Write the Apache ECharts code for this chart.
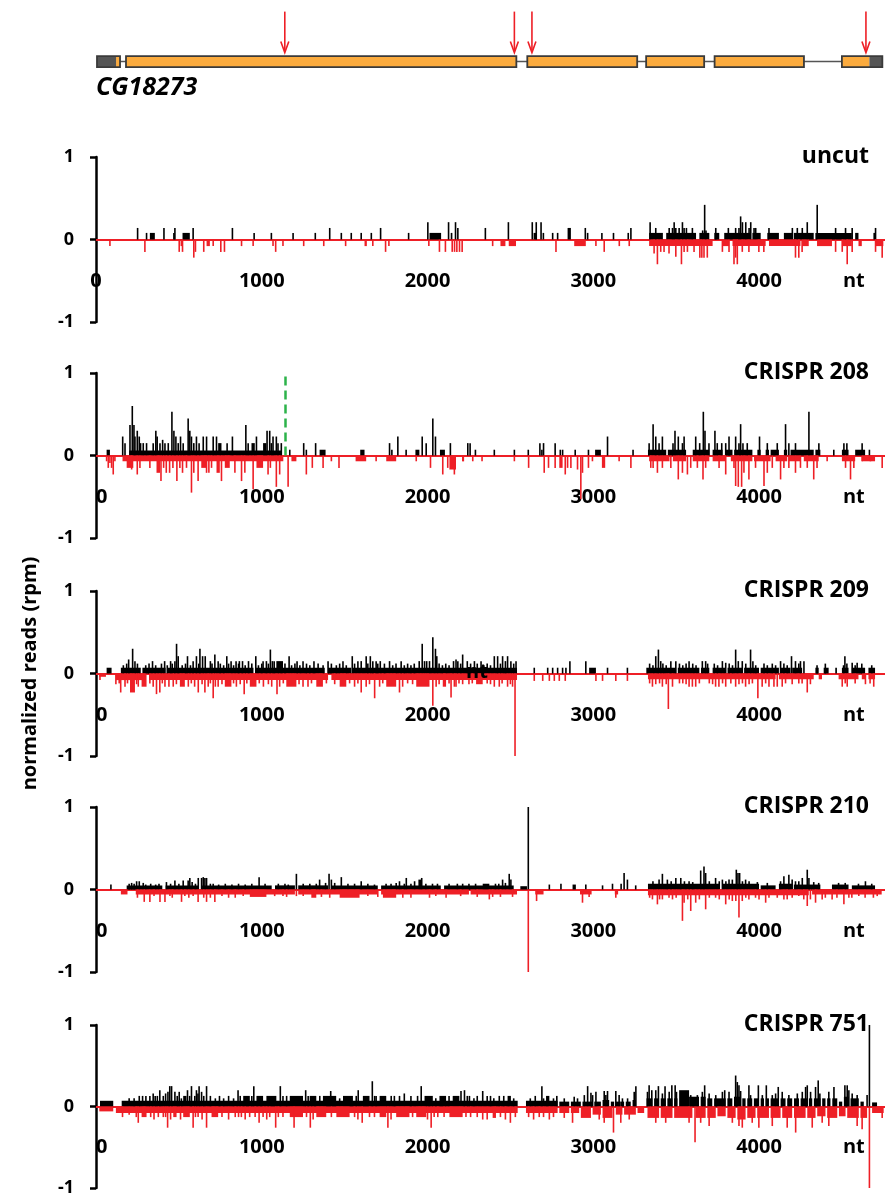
<!DOCTYPE html>
<html><head><meta charset="utf-8">
<script src="https://cdn.jsdelivr.net/npm/echarts@6/dist/echarts.min.js"></script>
<style>html,body{margin:0;padding:0;background:#fff}#c{width:885px;height:1197px}</style>
</head><body><div id="c"></div><script>
// ---------------- DATA ----------------
const xTicks = [0, 1000, 2000, 3000, 4000];
const xUnitLabel = 'nt';
const xUnitPos = 4572;
const xMax = 4760;
const panelTitles = ['uncut', 'CRISPR 208', 'CRISPR 209', 'CRISPR 210', 'CRISPR 751'];
const yAxisTitle = 'normalized reads (rpm)';
const geneName = 'CG18273';

// gene model (nt)
const geneUTR = [[6, 121], [4666, 4744]];
const geneCDS = [[121, 145], [181, 2536], [2602, 3265], [3319, 3669], [3732, 4271], [4500, 4666]];
const geneExons = [[6, 145], [181, 2536], [2602, 3265], [3319, 3669], [3732, 4271], [4500, 4744]];
const geneIntron = [[145, 4500]];
const sgRNAsites = [1139, 2524, 2630, 4645];
// green dashed marker in CRISPR 208 panel [nt, from, to]
const marker208 = [1143, 0, 1];

// reads: [startNt, endNt, value]  (single bars have start == end)
const uncutPos = [[251,251,0.14],[305,305,0.08],[325,355,0.08],[410,410,0.14],[470,470,0.08],[476,476,0.14],[522,566,0.08],[586,586,0.14],[823,823,0.14],[954,954,0.08],[1058,1058,0.08],[1189,1189,0.08],[1323,1323,0.08],[1410,1410,0.14],[1480,1480,0.08],[1540,1540,0.08],[1600,1600,0.08],[1661,1661,0.08],[1717,1717,0.14],[1886,1886,0.08],[2002,2002,0.21],[2012,2082,0.08],[2127,2127,0.21],[2140,2150,0.08],[2169,2169,0.21],[2183,2183,0.14],
[2349,2349,0.14],[2488,2488,0.21],[2632,2632,0.21],[2640,2660,0.08],[2656,2656,0.21],[2685,2685,0.21],[2699,2699,0.08],[2755,2755,0.08],[2785,2785,0.08],[2845,2865,0.14],[2952,2952,0.14],[2966,2966,0.08],[3052,3052,0.08],[3122,3122,0.08],[3211,3211,0.08],[3227,3227,0.14],
[3337,3420,0.08],[3440,3620,0.08],[3640,3700,0.08],[3730,3760,0.08],[3790,3950,0.08],[3960,4010,0.08],[4050,4120,0.08],[4150,4200,0.08],[4210,4330,0.08],[4340,4560,0.08],[4580,4600,0.08],[4690,4700,0.08],
[3343,3343,0.21],[3377,3377,0.14],[3458,3458,0.14],[3478,3478,0.14],[3488,3488,0.21],[3498,3498,0.14],[3518,3518,0.14],[3538,3538,0.21],[3548,3548,0.14],[3562,3562,0.14],[3598,3598,0.14],[3660,3660,0.11],[3672,3672,0.42],[3680,3680,0.11],[3739,3739,0.14],[3815,3815,0.14],[3859,3859,0.14],[3879,3879,0.14],[3889,3889,0.28],[3900,3900,0.21],[3920,3920,0.21],[3940,3940,0.14],[3950,3950,0.21],[3970,3970,0.14],[3980,3980,0.14],[4060,4060,0.14],[4201,4201,0.14],[4231,4231,0.14],[4261,4261,0.14],[4291,4291,0.21],[4351,4351,0.42],[4462,4462,0.14],[4522,4522,0.14],[4562,4562,0.14],[4703,4703,0.14]];
const uncutNeg = [[84,84,-0.08],[295,295,-0.15],[502,502,-0.15],[510,522,-0.08],[522,522,-0.15],[590,590,-0.22],[600,600,-0.15],[650,650,-0.15],[667,687,-0.08],[707,707,-0.08],[753,753,-0.15],[775,775,-0.15],[878,878,-0.08],[948,948,-0.08],[1068,1068,-0.08],[1084,1084,-0.15],[1128,1128,-0.08],[1253,1253,-0.08],[1374,1374,-0.08],[1506,1506,-0.08],[1620,1634,-0.08],[1670,1670,-0.08],[1747,1747,-0.15],[1767,1767,-0.08],[2008,2008,-0.08],[2072,2072,-0.15],[2108,2108,-0.15],[2149,2149,-0.15],[2163,2163,-0.15],[2177,2177,-0.15],[2193,2193,-0.15],[2209,2209,-0.15],
[2393,2393,-0.08],[2440,2470,-0.08],[2490,2534,-0.08],[2775,2775,-0.15],[2885,2955,-0.08],[3016,3016,-0.08],[3066,3066,-0.15],[3157,3157,-0.08],[3217,3217,-0.08],
[3337,3720,-0.08],[3780,3820,-0.08],[3840,4040,-0.08],[4060,4250,-0.08],[4260,4300,-0.08],[4350,4440,-0.08],[4500,4560,-0.08],[4600,4620,-0.08],[4700,4750,-0.08],
[3367,3367,-0.17],[3387,3387,-0.3],[3407,3407,-0.15],[3427,3427,-0.15],[3457,3457,-0.17],[3498,3498,-0.21],[3532,3532,-0.3],[3548,3548,-0.15],[3568,3568,-0.15],[3608,3608,-0.15],[3643,3643,-0.22],[3655,3655,-0.22],[3668,3668,-0.22],[3688,3688,-0.22],[3779,3779,-0.15],[3819,3819,-0.15],[3849,3849,-0.3],[3859,3859,-0.22],[3869,3869,-0.3],[3899,3899,-0.15],[3939,3939,-0.15],[3999,3999,-0.15],[4029,4029,-0.15],[4220,4220,-0.22],[4240,4240,-0.22],[4260,4260,-0.15],[4462,4462,-0.15],[4502,4502,-0.15],[4532,4532,-0.3],[4562,4562,-0.15],[4703,4703,-0.15],[4743,4743,-0.22]];

const c208Pos = [[64,84,0.07],[200,1120,0.06],[161,161,0.23],[175,175,0.15],[205,205,0.37],[219,219,0.6],[229,229,0.37],[235,235,0.23],[249,249,0.3],[261,261,0.23],[269,269,0.15],[285,285,0.15],[305,305,0.15],[345,345,0.15],[361,361,0.3],[369,369,0.23],[386,386,0.15],[402,402,0.19],[416,416,0.15],[436,436,0.15],[458,458,0.53],[470,470,0.3],[482,482,0.23],[496,496,0.15],[510,510,0.23],[526,526,0.15],[556,556,0.45],[566,566,0.3],[576,576,0.23],[590,590,0.15],[606,606,0.23],[622,622,0.15],[647,647,0.23],[667,667,0.23],[707,707,0.23],[727,727,0.23],[737,757,0.15],[791,791,0.15],[823,823,0.23],[904,904,0.37],[918,918,0.15],[938,958,0.15],[968,968,0.23],[1008,1028,0.15],[1032,1032,0.3],[1048,1048,0.3],[1058,1058,0.15],[1068,1068,0.23],[1088,1088,0.23],[1098,1098,0.15],[1118,1118,0.15],
[1169,1169,0.07],[1253,1253,0.15],[1269,1269,0.07],[1325,1325,0.15],[1349,1385,0.07],[1594,1620,0.07],[1771,1771,0.15],[1785,1785,0.07],[1821,1821,0.23],[1871,1871,0.07],[1927,1951,0.07],[1968,1968,0.23],[1992,1992,0.15],[2032,2032,0.45],[2048,2048,0.23],[2075,2105,0.07],[2138,2138,0.15],[2243,2243,0.15],
[2257,2257,0.15],[2289,2289,0.07],[2403,2403,0.07],[2524,2524,0.07],[2608,2608,0.07],[2678,2678,0.15],[2690,2690,0.07],[2700,2700,0.15],[2770,2770,0.15],[2801,2801,0.07],[2815,2815,0.07],[2891,2891,0.07],[2971,2971,0.07],[3011,3046,0.07],[3086,3086,0.23],[3240,3240,0.07],
[3330,3440,0.07],[3450,3560,0.07],[3600,3700,0.07],[3720,3780,0.07],[3800,3840,0.07],[3850,3960,0.07],[3990,4010,0.07],[4040,4060,0.07],[4070,4120,0.07],[4150,4170,0.07],[4190,4330,0.07],[4340,4370,0.07],[4500,4540,0.07],[4580,4640,0.07],
[3337,3337,0.15],[3361,3361,0.38],[3377,3377,0.23],[3397,3397,0.15],[3417,3417,0.23],[3481,3481,0.15],[3493,3493,0.3],[3513,3513,0.23],[3538,3538,0.15],[3548,3548,0.23],[3618,3618,0.23],[3642,3642,0.15],[3664,3664,0.53],[3674,3674,0.3],[3698,3698,0.15],[3734,3734,0.3],[3748,3748,0.15],[3775,3775,0.15],[3799,3799,0.15],[3819,3819,0.23],[3859,3859,0.23],[3879,3879,0.15],[3889,3889,0.38],[3903,3903,0.15],[3929,3929,0.15],[4003,4003,0.23],[4050,4050,0.15],[4110,4110,0.15],[4160,4160,0.38],[4180,4180,0.15],[4220,4220,0.15],[4301,4301,0.53],[4361,4361,0.15],[4451,4451,0.07],[4512,4512,0.15],[4530,4530,0.15],[4622,4622,0.15],[4666,4666,0.07]];
const c208Neg = [[64,64,-0.07],[74,74,-0.15],[84,84,-0.09],[94,94,-0.15],[104,104,-0.23],[114,114,-0.07],[160,1130,-0.07],[185,225,-0.15],[215,215,-0.17],[249,249,-0.23],[265,265,-0.15],[325,325,-0.15],[365,386,-0.21],[392,392,-0.31],[408,408,-0.15],[424,424,-0.21],[444,444,-0.21],[464,464,-0.15],[488,488,-0.31],[506,506,-0.15],[522,522,-0.21],[546,546,-0.15],[576,576,-0.45],[590,590,-0.21],[616,616,-0.31],[635,667,-0.15],[667,667,-0.21],[681,681,-0.21],[697,697,-0.15],[727,747,-0.21],[757,757,-0.31],[777,807,-0.15],[838,838,-0.21],[878,878,-0.31],[898,898,-0.21],[948,948,-0.41],[968,1008,-0.15],[1038,1038,-0.23],[1052,1052,-0.15],[1088,1088,-0.38],[1108,1108,-0.23],[1159,1159,-0.38],[1179,1209,-0.07],[1269,1269,-0.23],[1305,1305,-0.15],[1370,1370,-0.15],[1420,1420,-0.07],[1466,1466,-0.15],[1566,1630,-0.07],[1690,1690,-0.07],[1751,1811,-0.07],[1932,1932,-0.07],[2018,2018,-0.15],[2092,2092,-0.23],[2122,2122,-0.15],[2162,2162,-0.23],[2213,2213,-0.07],
[2132,2172,-0.17],[2216,2216,-0.07],[2273,2273,-0.07],[2329,2329,-0.07],[2524,2524,-0.07],[2610,2610,-0.15],[2704,2704,-0.21],[2730,2730,-0.15],[2770,2770,-0.15],[2795,2815,-0.15],[2831,2831,-0.23],[2845,2845,-0.15],[2865,2865,-0.15],[2905,2905,-0.17],[2925,2925,-0.53],[2935,2935,-0.21],[2971,2971,-0.15],[2995,2995,-0.07],[3052,3072,-0.15],[3156,3156,-0.07],[3227,3227,-0.15],
[3337,3460,-0.07],[3480,3560,-0.07],[3600,3700,-0.07],[3720,3800,-0.07],[3830,3960,-0.07],[3970,4070,-0.07],[4100,4170,-0.07],[4180,4250,-0.07],[4270,4360,-0.07],[4500,4580,-0.07],[4620,4700,-0.07],
[3347,3347,-0.15],[3361,3361,-0.15],[3387,3387,-0.21],[3417,3417,-0.15],[3468,3468,-0.15],[3513,3513,-0.29],[3538,3538,-0.21],[3568,3568,-0.23],[3588,3588,-0.15],[3628,3628,-0.15],[3662,3662,-0.29],[3678,3678,-0.15],[3759,3759,-0.15],[3799,3799,-0.23],[3849,3849,-0.15],[3859,3859,-0.37],[3875,3875,-0.38],[3895,3895,-0.38],[3909,3909,-0.21],[3939,3939,-0.29],[3979,3979,-0.15],[4030,4030,-0.37],[4050,4050,-0.21],[4080,4080,-0.15],[4130,4130,-0.29],[4150,4150,-0.15],[4180,4180,-0.15],[4220,4220,-0.21],[4250,4250,-0.15],[4291,4291,-0.15],[4330,4330,-0.29],[4350,4350,-0.15],[4411,4411,-0.07],[4522,4522,-0.15],[4552,4552,-0.29],[4572,4572,-0.15],[4622,4622,-0.07],[4672,4672,-0.07],[4743,4743,-0.15]];

const c209Pos = [[64,94,0.07],[150,270,0.07],[280,420,0.07],[430,950,0.07],[960,1380,0.07],[1400,1540,0.07],[1550,2540,0.07],
[197,197,0.17],[221,221,0.3],[235,235,0.15],[341,341,0.15],[414,414,0.15],[450,450,0.15],[476,476,0.15],[486,486,0.36],[496,496,0.21],[552,552,0.21],[586,586,0.15],[606,606,0.21],[627,627,0.3],[643,643,0.21],[659,659,0.21],[717,717,0.23],[737,737,0.15],[789,789,0.21],[815,815,0.15],[845,845,0.15],[865,865,0.15],[884,884,0.15],[920,920,0.15],[964,964,0.21],[1008,1008,0.15],[1028,1028,0.15],[1052,1052,0.29],[1064,1064,0.15],[1088,1128,0.15],[1165,1165,0.21],[1213,1213,0.15],[1249,1249,0.15],[1315,1315,0.15],[1400,1400,0.15],[1490,1490,0.15],[1546,1546,0.21],[1580,1580,0.15],[1630,1630,0.21],[1655,1655,0.21],[1670,1670,0.15],[1715,1715,0.15],[1771,1771,0.15],[1841,1841,0.15],[1968,1968,0.36],[1982,1982,0.15],[2012,2012,0.15],[2032,2032,0.44],[2048,2048,0.3],[2056,2056,0.21],[2157,2157,0.15],[2183,2183,0.15],
[165,165,0.1],[185,185,0.12],[250,250,0.12],[300,300,0.1],[320,320,0.12],[360,360,0.1],[395,395,0.12],[430,430,0.1],[460,460,0.12],[520,520,0.1],[540,540,0.12],[570,570,0.1],[620,620,0.12],[690,690,0.15],[700,700,0.12],[750,750,0.12],[770,770,0.1],[800,800,0.12],[830,830,0.1],[860,860,0.12],[900,900,0.1],[940,940,0.12],[980,980,0.1],[1000,1000,0.12],[1040,1040,0.12],[1075,1075,0.15],[1140,1140,0.12],[1180,1180,0.1],[1200,1200,0.12],[1230,1230,0.1],[1270,1270,0.12],[1290,1290,0.1],[1340,1340,0.12],[1370,1370,0.1],[1420,1420,0.12],[1450,1450,0.1],[1470,1470,0.12],[1510,1510,0.1],[1560,1560,0.12],[1600,1600,0.15],[1640,1640,0.12],[1690,1690,0.15],[1700,1700,0.12],[1740,1740,0.12],[1790,1790,0.1],[1810,1810,0.12],[1860,1860,0.1],[1880,1880,0.12],[1900,1900,0.1],[1920,1920,0.12],[1950,1950,0.15],[1995,1995,0.15],[2070,2070,0.12],[2090,2090,0.1],[2110,2110,0.12],[2130,2130,0.1],[2200,2200,0.12],[2240,2240,0.15],[2260,2260,0.12],[2300,2300,0.12],[2340,2340,0.1],[2360,2360,0.12],[2380,2380,0.1],[2440,2440,0.12],[2470,2470,0.15],[2520,2520,0.12],
[2172,2172,0.17],[2212,2212,0.23],[2283,2283,0.15],[2323,2323,0.15],[2403,2403,0.21],[2423,2423,0.21],[2453,2453,0.21],[2483,2483,0.21],[2503,2503,0.15],[2534,2534,0.15],[2644,2644,0.07],[2725,2725,0.07],[2755,2755,0.07],[2785,2785,0.07],[2815,2815,0.07],[2835,2835,0.07],[2859,2859,0.15],[2955,2955,0.15],[2975,3016,0.07],[3086,3086,0.07],[3206,3206,0.07],
[3320,3500,0.07],[3510,3640,0.07],[3650,3700,0.07],[3720,3800,0.07],[3810,3900,0.07],[3910,4000,0.07],[4010,4120,0.07],[4130,4190,0.07],[4200,4260,0.07],[4340,4360,0.07],[4390,4420,0.07],[4460,4470,0.07],[4500,4540,0.07],[4560,4640,0.07],[4660,4700,0.07],
[3377,3377,0.21],[3393,3393,0.29],[3407,3407,0.15],[3468,3468,0.15],[3498,3498,0.15],[3578,3578,0.15],[3658,3658,0.15],[3678,3678,0.15],[3779,3779,0.15],[3799,3799,0.13],[3859,3859,0.29],[3875,3875,0.15],[3899,3899,0.15],[3949,3949,0.29],[3963,3963,0.15],[4130,4130,0.15],[4196,4196,0.21],[4220,4220,0.15],[4250,4250,0.15],[4271,4271,0.15],[4518,4518,0.21],[4562,4562,0.13],[4592,4592,0.13],
[3340,3340,0.12],[3360,3360,0.1],[3420,3420,0.12],[3440,3440,0.1],[3520,3520,0.12],[3540,3540,0.1],[3560,3560,0.12],[3600,3600,0.12],[3620,3620,0.1],[3690,3690,0.12],[3730,3730,0.12],[3750,3750,0.1],[3820,3820,0.12],[3840,3840,0.1],[3920,3920,0.12],[3980,3980,0.1],[4030,4030,0.12],[4050,4050,0.1],[4080,4080,0.12],[4100,4100,0.1],[4150,4150,0.12],[4170,4170,0.1],[4240,4240,0.12],[4350,4350,0.1],[4400,4400,0.12],[4510,4510,0.1],[4530,4530,0.12],[4580,4580,0.1],[4620,4620,0.12],[4680,4680,0.1]];
const c209Neg = [[20,60,-0.04],[120,300,-0.08],[320,1400,-0.08],[1420,2540,-0.08],
[24,24,-0.08],[120,120,-0.13],[149,149,-0.23],[205,235,-0.23],[255,255,-0.16],[275,305,-0.16],[365,365,-0.25],[385,385,-0.23],[416,416,-0.16],[466,466,-0.16],[506,536,-0.16],[557,557,-0.16],[617,617,-0.23],[657,657,-0.23],[677,677,-0.16],[707,707,-0.3],[737,737,-0.16],[777,817,-0.16],[847,847,-0.16],[894,894,-0.25],[928,968,-0.16],[1092,1092,-0.25],[1108,1108,-0.16],[1148,1209,-0.16],[1249,1249,-0.16],[1279,1279,-0.16],[1329,1369,-0.16],[1470,1510,-0.16],[1600,1600,-0.23],[1630,1630,-0.16],[1681,1681,-0.3],[1711,1711,-0.16],[1751,1811,-0.16],[1831,1831,-0.23],[1932,2012,-0.16],[2032,2032,-0.39],[2052,2052,-0.16],[2092,2112,-0.16],[2142,2142,-0.29],[2162,2162,-0.16],
[140,140,-0.12],[175,175,-0.16],[190,190,-0.12],[245,245,-0.13],[325,325,-0.12],[345,345,-0.16],[400,400,-0.12],[440,440,-0.16],[485,485,-0.13],[575,575,-0.12],[595,595,-0.16],[640,640,-0.13],[690,690,-0.12],[720,720,-0.16],[760,760,-0.13],[830,830,-0.12],[870,870,-0.13],[910,910,-0.12],[985,985,-0.12],[1010,1010,-0.16],[1040,1040,-0.13],[1060,1060,-0.16],[1130,1130,-0.12],[1225,1225,-0.13],[1300,1300,-0.12],[1390,1390,-0.12],[1440,1440,-0.13],[1530,1530,-0.12],[1560,1560,-0.16],[1580,1580,-0.12],[1650,1650,-0.13],[1730,1730,-0.12],[1850,1850,-0.16],[1880,1880,-0.12],[1910,1910,-0.13],[2070,2070,-0.13],[2130,2130,-0.12],[2190,2190,-0.12],[2250,2250,-0.13],[2270,2270,-0.12],[2360,2360,-0.12],[2380,2380,-0.13],[2450,2450,-0.12],[2500,2500,-0.13],
[2172,2172,-0.16],[2212,2212,-0.13],[2293,2333,-0.13],[2403,2403,-0.16],[2433,2433,-0.16],[2483,2483,-0.16],[2513,2513,-0.16],[2528,2528,-1.0],[2644,2644,-0.09],[2695,2695,-0.09],[2735,2735,-0.09],[2765,2765,-0.09],[2795,2795,-0.09],[2831,2831,-0.09],[3016,3016,-0.09],[3056,3056,-0.09],[3136,3136,-0.09],[3206,3206,-0.09],
[3330,4100,-0.07],[4120,4330,-0.07],[4360,4380,-0.07],[4480,4600,-0.07],[4620,4640,-0.07],[4660,4700,-0.07],
[3357,3357,-0.16],[3377,3377,-0.13],[3417,3417,-0.16],[3453,3453,-0.43],[3478,3478,-0.16],[3578,3578,-0.16],[3598,3598,-0.16],[3618,3618,-0.16],[3738,3738,-0.16],[3758,3758,-0.16],[3799,3799,-0.16],[3859,3859,-0.16],[3879,3879,-0.13],[3919,3919,-0.16],[3993,3993,-0.3],[4019,4019,-0.16],[4060,4060,-0.16],[4090,4090,-0.16],[4110,4110,-0.16],[4140,4140,-0.16],[4291,4291,-0.23],[4502,4502,-0.16],[4532,4532,-0.16],[4642,4642,-0.13],[4692,4692,-0.16],
[3340,3340,-0.12],[3400,3400,-0.12],[3440,3440,-0.13],[3520,3520,-0.12],[3540,3540,-0.12],[3560,3560,-0.13],[3640,3640,-0.12],[3700,3700,-0.12],[3720,3720,-0.13],[3780,3780,-0.12],[3830,3830,-0.12],[3900,3900,-0.12],[3940,3940,-0.13],[3960,3960,-0.12],[4040,4040,-0.12],[4160,4160,-0.12],[4200,4200,-0.13],[4240,4240,-0.12],[4260,4260,-0.12],[4310,4310,-0.13],[4520,4520,-0.12],[4580,4580,-0.12],[4670,4670,-0.12]];

const c210Pos = [[90,90,0.06],[185,400,0.05],[420,620,0.05],[640,1060,0.05],[1080,1200,0.05],[1220,1400,0.05],[1420,1700,0.05],[1720,2080,0.05],[2100,2520,0.05],[2560,2600,0.04],
[215,215,0.08],[245,245,0.1],[261,261,0.1],[285,285,0.08],[425,425,0.09],[476,476,0.11],[526,526,0.11],[556,556,0.11],[566,566,0.14],[580,580,0.09],[617,617,0.14],[637,637,0.14],[647,647,0.15],[657,657,0.14],[667,667,0.14],[707,707,0.07],[984,984,0.15],[1140,1140,0.07],[1209,1209,0.19],[1329,1329,0.07],[1349,1349,0.12],[1385,1385,0.08],[1406,1406,0.19],[1420,1420,0.12],[1480,1480,0.15],[1600,1600,0.1],[1811,1811,0.08],[1831,1831,0.1],[1872,1872,0.14],[1922,1922,0.1],[1945,1965,0.12],[1965,1965,0.14],
[200,200,0.07],[230,230,0.07],[300,300,0.06],[330,330,0.07],[360,360,0.06],[380,380,0.07],[450,450,0.07],[500,500,0.07],[600,600,0.07],[690,690,0.07],[740,740,0.06],[780,780,0.07],[820,820,0.06],[860,860,0.07],[900,900,0.06],[940,940,0.07],[1020,1020,0.07],[1100,1100,0.07],[1160,1160,0.06],[1250,1250,0.07],[1290,1290,0.07],[1440,1440,0.08],[1520,1520,0.07],[1560,1560,0.07],[1640,1640,0.07],[1680,1680,0.06],[1750,1750,0.07],[1780,1780,0.07],[1860,1860,0.07],[1900,1900,0.07],[1990,1990,0.07],[2030,2030,0.07],[2060,2060,0.07],[2130,2130,0.07],[2180,2180,0.07],[2250,2250,0.07],[2290,2290,0.07],[2410,2410,0.07],[2430,2430,0.07],[2470,2470,0.08],
[2212,2212,0.07],[2333,2373,0.07],[2453,2453,0.12],[2493,2493,0.19],[2503,2503,0.12],[2608,2608,1.0],[2735,2735,0.06],[2805,2805,0.07],[2875,2895,0.06],[2955,2955,0.06],[3056,3056,0.05],[3116,3116,0.07],[3168,3168,0.07],[3186,3186,0.2],[3206,3206,0.12],[3256,3256,0.05],
[3330,3760,0.07],[3780,4000,0.07],[4010,4100,0.05],[4120,4200,0.07],[4210,4370,0.06],[4440,4540,0.06],[4560,4700,0.05],
[3397,3397,0.12],[3417,3417,0.19],[3447,3447,0.12],[3498,3498,0.14],[3528,3528,0.14],[3578,3578,0.1],[3648,3648,0.23],[3668,3668,0.28],[3678,3678,0.2],[3738,3738,0.14],[3779,3779,0.12],[3819,3819,0.12],[3839,3839,0.12],[3863,3863,0.24],[3873,3873,0.2],[3883,3883,0.2],[3919,3919,0.12],[4150,4150,0.16],[4180,4180,0.18],[4220,4220,0.1],[4261,4261,0.14],[4291,4291,0.24],[4301,4301,0.14],[4642,4642,0.1],
[3360,3360,0.1],[3470,3470,0.1],[3550,3550,0.1],[3600,3600,0.09],[3700,3700,0.1],[3760,3760,0.1],[3800,3800,0.1],[3900,3900,0.1],[3940,3940,0.1],[3990,3990,0.09],[4050,4050,0.08],[4130,4130,0.1],[4200,4200,0.12],[4240,4240,0.1],[4330,4330,0.09],[4360,4360,0.08],[4480,4480,0.08],[4520,4520,0.08],[4600,4600,0.07],[4680,4680,0.07]];
const c210Neg = [[150,190,-0.06],[240,1200,-0.06],[1220,1700,-0.06],[1720,2250,-0.06],[2260,2540,-0.06],[2650,2700,-0.06],[2920,2990,-0.06],[3130,3150,-0.06],[3330,4300,-0.07],[4320,4740,-0.06],
[291,291,-0.15],[325,325,-0.15],[386,386,-0.15],[416,416,-0.15],[446,446,-0.08],[516,516,-0.15],[536,536,-0.08],[586,586,-0.08],[616,616,-0.15],[667,667,-0.15],[717,717,-0.15],[888,888,-0.08],[928,1028,-0.09],[1078,1078,-0.08],[1128,1128,-0.08],[1209,1209,-0.08],[1299,1329,-0.1],[1410,1410,-0.1],[1470,1590,-0.1],[1731,1811,-0.1],[1851,1851,-0.1],[2012,2012,-0.1],[2112,2112,-0.1],
[250,250,-0.1],[350,350,-0.08],[460,460,-0.1],[560,560,-0.1],[650,650,-0.1],[690,690,-0.1],[760,760,-0.08],[800,800,-0.1],[840,840,-0.1],[1150,1150,-0.09],[1250,1250,-0.08],[1360,1360,-0.09],[1640,1640,-0.08],[1700,1700,-0.09],[1900,1900,-0.1],[2050,2050,-0.08],[2200,2200,-0.08],[2300,2300,-0.09],[2440,2440,-0.09],
[2373,2373,-0.12],[2393,2393,-0.09],[2513,2513,-0.09],[2608,2608,-1.0],[2658,2658,-0.14],[2935,2935,-0.16],[2975,2975,-0.09],[3136,3136,-0.1],
[3357,3357,-0.12],[3387,3387,-0.18],[3417,3417,-0.12],[3457,3457,-0.1],[3478,3478,-0.12],[3538,3538,-0.38],[3548,3548,-0.16],[3588,3588,-0.26],[3618,3618,-0.16],[3678,3678,-0.24],[3738,3738,-0.1],[3799,3799,-0.18],[3839,3839,-0.14],[3879,3879,-0.34],[3899,3899,-0.14],[3939,3939,-0.12],[3979,3979,-0.1],[4040,4040,-0.16],[4150,4150,-0.12],[4170,4170,-0.12],[4240,4240,-0.08],[4291,4291,-0.2],[4341,4341,-0.16],[4381,4381,-0.12],[4441,4441,-0.12],[4512,4512,-0.18],[4542,4542,-0.1],[4602,4602,-0.08],[4713,4713,-0.08],
[3340,3340,-0.1],[3400,3400,-0.12],[3500,3500,-0.1],[3570,3570,-0.12],[3640,3640,-0.12],[3700,3700,-0.1],[3760,3760,-0.12],[3820,3820,-0.12],[3860,3860,-0.14],[3920,3920,-0.1],[4000,4000,-0.12],[4060,4060,-0.1],[4110,4110,-0.1],[4200,4200,-0.1],[4270,4270,-0.12],[4310,4310,-0.12],[4400,4400,-0.1],[4470,4470,-0.1],[4560,4560,-0.1],[4640,4640,-0.1],[4690,4690,-0.1]];

const c751Pos = [[24,104,0.07],[155,2544,0.07],[2594,2785,0.07],
[261,261,0.13],[281,281,0.13],[301,301,0.13],[325,325,0.13],[357,357,0.13],[385,385,0.2],[406,406,0.13],[434,434,0.18],[456,456,0.25],[476,476,0.18],[502,502,0.18],[526,546,0.13],[552,552,0.2],[576,576,0.25],[596,596,0.13],[606,606,0.2],[622,622,0.25],[637,637,0.18],[667,667,0.25],[857,857,0.2],[888,928,0.13],[952,952,0.25],[968,1008,0.13],[1028,1088,0.13],[1112,1112,0.25],[1128,1128,0.13],[1169,1249,0.13],[1265,1265,0.2],[1289,1329,0.13],[1369,1449,0.13],[1416,1416,0.19],[1490,1550,0.13],[1582,1582,0.2],[1610,1650,0.13],[1667,1667,0.31],[1681,1681,0.13],[1711,1751,0.13],[1781,1781,0.13],[1831,1831,0.13],[1962,1962,0.25],[1982,2032,0.13],[2072,2112,0.13],[2152,2192,0.13],[2223,2223,0.2],
[200,200,0.1],[230,230,0.1],[345,345,0.16],[370,370,0.13],[420,420,0.16],[445,445,0.25],[490,490,0.13],[515,515,0.1],[565,565,0.13],[615,615,0.16],[650,650,0.13],[690,690,0.13],[720,720,0.1],[745,745,0.13],[770,770,0.1],[800,800,0.13],[830,830,0.1],[870,870,0.13],[940,940,0.13],[1150,1150,0.13],[1280,1280,0.13],[1350,1350,0.13],[1470,1470,0.1],[1570,1570,0.13],[1690,1690,0.13],[1800,1800,0.13],[1860,1860,0.16],[1900,1900,0.13],[1940,1940,0.13],[2050,2050,0.1],[2130,2130,0.13],[2240,2240,0.13],[2280,2280,0.1],[2300,2300,0.13],[2360,2360,0.13],[2380,2380,0.13],[2400,2400,0.1],[2460,2460,0.13],[2520,2520,0.1],[2620,2620,0.1],[2650,2650,0.13],[2700,2700,0.1],[2760,2760,0.1],
[2202,2202,0.19],[2253,2253,0.13],[2333,2333,0.19],[2433,2433,0.13],[2483,2503,0.13],[2690,2690,0.25],[2715,2735,0.13],[2775,2785,0.13],
[2795,2855,0.06],[2825,2825,0.1],[2865,2925,0.06],[2885,2885,0.12],[2905,2905,0.1],[2935,2995,0.06],[2946,2946,0.14],[2966,2966,0.25],[2986,2986,0.17],[2996,2996,0.14],[3006,3046,0.06],[3016,3016,0.18],[3056,3096,0.08],[3066,3066,0.19],[3076,3076,0.14],[3086,3086,0.19],[3106,3126,0.06],[3136,3166,0.06],[3136,3136,0.19],[3156,3156,0.14],[3166,3186,0.06],[3176,3176,0.1],[3196,3226,0.06],[3207,3207,0.1],[3237,3257,0.08],[3247,3247,0.18],[3257,3257,0.25],
[3321,3357,0.1],[3327,3327,0.18],[3337,3337,0.26],[3353,3353,0.2],[3367,3397,0.1],[3377,3377,0.2],[3393,3393,0.25],[3407,3437,0.1],[3417,3417,0.16],[3433,3433,0.25],[3447,3478,0.1],[3458,3458,0.18],[3474,3474,0.26],[3488,3508,0.1],[3494,3494,0.26],[3502,3502,0.18],[3518,3578,0.2],[3578,3638,0.12],[3588,3588,0.14],[3628,3628,0.14],[3648,3678,0.12],[3658,3658,0.18],[3672,3672,0.26],[3688,3718,0.1],[3699,3699,0.16],[3729,3799,0.1],[3739,3739,0.14],[3779,3779,0.18],[3793,3793,0.2],[3809,3839,0.1],[3819,3819,0.18],[3849,3889,0.12],[3859,3859,0.38],[3869,3869,0.3],[3879,3879,0.26],[3889,3889,0.19],[3899,3919,0.1],[3929,3959,0.1],[3939,3939,0.26],[3949,3949,0.14],[3969,3999,0.1],[3996,3996,0.26],[4010,4030,0.1],[4020,4020,0.14],[4040,4060,0.1],[4044,4044,0.26],[4070,4120,0.1],[4080,4080,0.14],[4100,4100,0.16],[4116,4116,0.24],[4130,4160,0.1],[4140,4140,0.18],[4170,4200,0.1],[4180,4180,0.14],[4211,4241,0.1],[4231,4231,0.16],[4251,4291,0.1],[4261,4261,0.18],[4281,4281,0.24],[4291,4291,0.26],[4301,4321,0.1],[4311,4311,0.18],[4331,4371,0.1],[4341,4341,0.24],[4357,4357,0.32],[4367,4367,0.16],[4381,4401,0.1],[4411,4431,0.1],[4421,4421,0.18],[4442,4472,0.1],[4452,4452,0.24],[4482,4502,0.06],[4512,4542,0.12],[4518,4518,0.26],[4532,4532,0.26],[4542,4542,0.2],[4552,4602,0.1],[4562,4562,0.16],[4592,4592,0.14],[4612,4632,0.06],[4652,4652,0.14],[4666,4666,1.0],[4682,4712,0.05]];
const c751Neg = [[20,104,-0.06],[120,2544,-0.08],[2594,2785,-0.08],
[243,243,-0.13],[255,255,-0.2],[275,305,-0.13],[376,376,-0.13],[406,406,-0.13],[432,432,-0.26],[466,486,-0.13],[526,566,-0.13],[586,586,-0.26],[616,616,-0.13],[667,667,-0.26],[697,737,-0.13],[877,877,-0.13],[927,927,-0.13],[984,984,-0.2],[1008,1008,-0.13],[1048,1048,-0.13],[1084,1084,-0.26],[1128,1128,-0.13],[1169,1249,-0.13],[1195,1195,-0.26],[1293,1293,-0.26],[1329,1389,-0.13],[1450,1530,-0.13],[1606,1606,-0.2],[1650,1650,-0.13],[1711,1751,-0.13],[1761,1761,-0.26],[1811,1891,-0.13],[1932,1992,-0.13],[2022,2022,-0.26],[2062,2062,-0.13],[2132,2212,-0.13],
[160,160,-0.13],[200,200,-0.1],[330,330,-0.13],[350,350,-0.16],[420,420,-0.13],[450,450,-0.16],[510,510,-0.16],[600,600,-0.13],[640,640,-0.16],[760,760,-0.13],[800,800,-0.16],[840,840,-0.13],[860,860,-0.13],[900,900,-0.16],[960,960,-0.13],[1030,1030,-0.16],[1100,1100,-0.13],[1270,1270,-0.13],[1310,1310,-0.16],[1420,1420,-0.13],[1560,1560,-0.13],[1580,1580,-0.16],[1680,1680,-0.13],[1780,1780,-0.16],[1910,1910,-0.13],[2000,2000,-0.16],[2040,2040,-0.13],[2100,2100,-0.13],[2260,2260,-0.13],[2300,2300,-0.13],[2360,2360,-0.16],[2440,2440,-0.13],[2470,2470,-0.16],[2530,2530,-0.13],[2610,2610,-0.13],[2640,2640,-0.16],[2700,2700,-0.13],[2760,2760,-0.13],
[2232,2232,-0.13],[2333,2333,-0.16],[2393,2413,-0.14],[2500,2500,-0.2],[2674,2674,-0.13],[2735,2735,-0.16],
[2795,2855,-0.08],[2825,2825,-0.14],[2865,2915,-0.08],[2875,2875,-0.2],[2925,2986,-0.14],[2996,3046,-0.1],[3036,3036,-0.16],[3056,3116,-0.14],[3066,3066,-0.2],[3122,3122,-0.32],[3136,3176,-0.1],[3166,3166,-0.2],[3186,3257,-0.1],[3217,3217,-0.16],[3267,3307,-0.08],
[3327,3397,-0.14],[3377,3377,-0.2],[3407,3478,-0.14],[3437,3437,-0.2],[3488,3598,-0.14],[3578,3578,-0.2],[3614,3614,-0.44],[3618,3678,-0.14],[3648,3648,-0.2],[3688,3739,-0.14],[3699,3699,-0.24],[3749,3799,-0.12],[3809,3859,-0.14],[3839,3839,-0.2],[3869,3919,-0.16],[3879,3879,-0.24],[3899,3899,-0.26],[3929,3979,-0.14],[3959,3959,-0.2],[3989,4060,-0.14],[3999,3999,-0.26],[4070,4130,-0.14],[4080,4080,-0.24],[4140,4200,-0.14],[4170,4170,-0.26],[4211,4281,-0.14],[4221,4221,-0.32],[4291,4341,-0.14],[4321,4321,-0.26],[4351,4401,-0.12],[4381,4381,-0.2],[4411,4472,-0.14],[4421,4421,-0.24],[4482,4522,-0.12],[4532,4602,-0.14],[4592,4592,-0.24],[4612,4652,-0.14],[4622,4622,-0.28],[4666,4666,-1.0],[4682,4752,-0.08],[4743,4743,-0.14]];

const panelPos = [uncutPos, c208Pos, c209Pos, c210Pos, c751Pos];
const panelNeg = [uncutNeg, c208Neg, c209Neg, c210Neg, c751Neg];

// ---------------- CHART ----------------
const FONT = '"Open Sans", "Liberation Sans", sans-serif';
const BLACK = '#000000', RED = '#ee1f26', GREEN = '#2cb34a', ORANGE = '#fbab3e', GREY = '#555555', OUTLINE = '#3a3a3a';
const panelTop = [157, 373, 591, 807, 1025];
const panelH = 165;

function barItem(color) {
  return function (params, api) {
    const a = api.coord([api.value(0), 0]);
    const b = api.coord([api.value(1), api.value(2)]);
    let x = a[0], w = b[0] - a[0];
    if (w < 1.6) { x = (a[0] + b[0]) / 2 - 0.8; w = 1.6; }
    return { type: 'rect', shape: { x: x, y: Math.min(a[1], b[1]), width: w, height: Math.abs(b[1] - a[1]) }, style: { fill: color } };
  };
}

const grid = [], xAxis = [], yAxis = [], series = [], title = [];
panelTitles.forEach(function (t, i) {
  grid.push({ left: 96, width: 790, top: panelTop[i], height: panelH });
  xAxis.push({
    type: 'value', gridIndex: i, min: 0, max: xMax,
    axisLine: { show: true, onZero: true, lineStyle: { color: RED, width: 2 } },
    axisTick: { show: false }, splitLine: { show: false },
    axisLabel: {
      customValues: xTicks.concat([xUnitPos]),
      formatter: function (v) { return v === xUnitPos ? xUnitLabel : String(v); },
      margin: -51, fontSize: 20, fontWeight: 'bold', color: '#000', fontFamily: FONT,
      alignMinLabel: i === 0 ? 'center' : 'left'
    }
  });
  const ya = {
    type: 'value', gridIndex: i, min: -1, max: 1, interval: 1,
    axisLine: { show: true, onZero: false, lineStyle: { color: '#000', width: 2.5 } },
    axisTick: { show: true, length: 6, lineStyle: { color: '#000', width: 2.5 } },
    axisLabel: { margin: 22, fontSize: 18, fontWeight: 'bold', color: '#000', fontFamily: FONT },
    splitLine: { show: false }
  };
  if (i === 2) {
    ya.name = yAxisTitle; ya.nameLocation = 'middle'; ya.nameRotate = 90; ya.nameGap = 56;
    ya.nameTextStyle = { fontSize: 20, fontWeight: 'bold', color: '#000', fontFamily: FONT };
  }
  yAxis.push(ya);
  title.push({ text: t, right: 16, top: panelTop[i] - 12, padding: 0,
    textStyle: { fontSize: 23, fontWeight: 'bold', color: '#000', fontFamily: FONT } });
  series.push({ type: 'custom', xAxisIndex: i, yAxisIndex: i, clip: true, silent: true,
    renderItem: barItem(BLACK), encode: { x: [0, 1], y: 2 }, data: panelPos[i] });
  series.push({ type: 'custom', xAxisIndex: i, yAxisIndex: i, clip: true, silent: true,
    renderItem: barItem(RED), encode: { x: [0, 1], y: 2 }, data: panelNeg[i] });
});

// CRISPR 208 target marker
series.push({ type: 'line', xAxisIndex: 1, yAxisIndex: 1, data: [], silent: true,
  markLine: { symbol: 'none', silent: true, label: { show: false },
    lineStyle: { color: GREEN, width: 2.5, type: [9, 5] },
    data: [[{ coord: [marker208[0], marker208[1]] }, { coord: [marker208[0], marker208[2]] }]] } });

// gene model grid
const G = 5;
grid.push({ left: 96, width: 790, top: 10, height: 60 });
xAxis.push({ type: 'value', gridIndex: G, min: 0, max: xMax, show: false });
yAxis.push({ type: 'value', gridIndex: G, min: 0, max: 1, show: false });
const geneY = 0.14;
series.push({ type: 'custom', xAxisIndex: G, yAxisIndex: G, silent: true, data: geneIntron,
  renderItem: function (p, api) {
    const a = api.coord([api.value(0), geneY]), b = api.coord([api.value(1), geneY]);
    return { type: 'line', shape: { x1: a[0], y1: a[1], x2: b[0], y2: b[1] }, style: { stroke: GREY, lineWidth: 1.5 } };
  } });
function geneBox(fill, stroke) {
  return function (p, api) {
    const a = api.coord([api.value(0), geneY]), b = api.coord([api.value(1), geneY]);
    return { type: 'rect', shape: { x: a[0], y: a[1] - 5.5, width: b[0] - a[0], height: 11 },
      style: { fill: fill, stroke: stroke, lineWidth: stroke === 'none' ? 0 : 1.8 } };
  };
}
series.push({ type: 'custom', xAxisIndex: G, yAxisIndex: G, silent: true, data: geneCDS, renderItem: geneBox(ORANGE, 'none') });
series.push({ type: 'custom', xAxisIndex: G, yAxisIndex: G, silent: true, data: geneUTR, renderItem: geneBox(GREY, 'none') });
series.push({ type: 'custom', xAxisIndex: G, yAxisIndex: G, silent: true, data: geneExons, renderItem: geneBox('none', OUTLINE) });
series.push({ type: 'custom', xAxisIndex: G, yAxisIndex: G, silent: true, data: sgRNAsites.map(function (s) { return [s]; }),
  renderItem: function (p, api) {
    const a = api.coord([api.value(0), geneY]);
    const tipY = a[1] - 9, topY = a[1] - 50;
    return { type: 'group', children: [
      { type: 'line', shape: { x1: a[0], y1: topY, x2: a[0], y2: tipY - 2 }, style: { stroke: RED, lineWidth: 1.6 } },
      { type: 'polyline', shape: { points: [[a[0] - 4, tipY - 11], [a[0], tipY], [a[0] + 4, tipY - 11]] }, style: { stroke: RED, fill: 'none', lineWidth: 1.6 } }
    ] };
  } });
title.push({ text: geneName, left: 96, top: 75, padding: 0,
  textStyle: { fontSize: 25, fontWeight: 'bold', fontStyle: 'italic', color: '#000', fontFamily: FONT } });

const chart = echarts.init(document.getElementById('c'), null, { renderer: 'canvas', devicePixelRatio: 1 });
chart.setOption({
  animation: false, backgroundColor: '#ffffff',
  title: title, grid: grid, xAxis: xAxis, yAxis: yAxis, series: series,
  graphic: [{ type: 'text', left: 466, top: 662, z: 100, zlevel: 1, style: { text: xUnitLabel, fontSize: 20, fontWeight: 'bold', fill: '#000', fontFamily: FONT } }]
});
</script></body></html>
